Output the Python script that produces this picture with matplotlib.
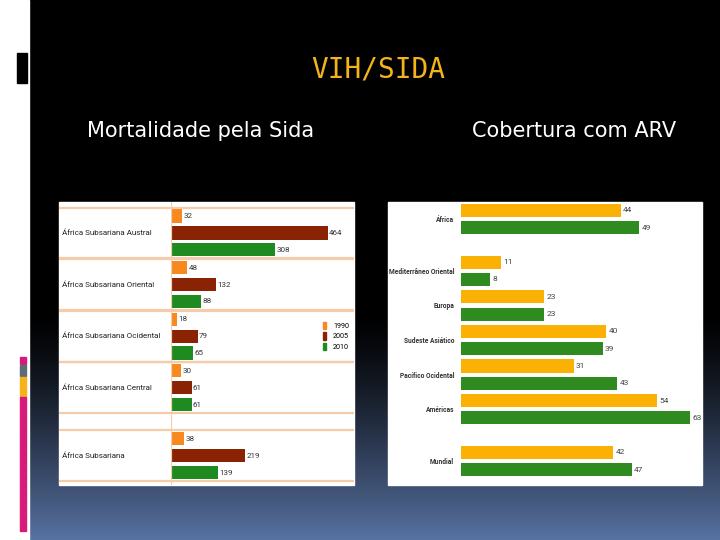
import numpy as np
import matplotlib.pyplot as plt
from matplotlib.patches import Rectangle, Patch

# Mortalidade pela Sida (left chart)
mort_regions = ["África Subsariana Austral", "África Subsariana Oriental",
                "África Subsariana Ocidental", "África Subsariana Central",
                "África Subsariana"]
mort_years = ["1990", "2005", "2010"]
mort_1990 = [32, 48, 18, 30, 38]
mort_2005 = [464, 132, 79, 61, 219]
mort_2010 = [308, 88, 65, 61, 139]

# Cobertura com ARV (right chart)
arv_regions = ["África", "Mediterrâneo Oriental", "Europa", "Sudeste Asiático",
               "Pacífico Ocidental", "Américas", "Mundial"]
arv_a = [44, 11, 23, 40, 31, 54, 42]
arv_b = [49, 8, 23, 39, 43, 63, 47]

W, H = 720, 540
fig = plt.figure(figsize=(7.2, 5.4), dpi=100)


def fx(px):
    return px / W


def fy(py):
    return 1 - py / H


# background: black fading to blue-grey at the bottom
bg = fig.add_axes([0, 0, 1, 1])
t = np.linspace(0, 1, 540)
ramp = np.clip((t - 0.58) / 0.42, 0, 1) ** 1.3
bot = np.array([88, 114, 162]) / 255
grad = bot[None, :] * ramp[:, None]
bg.imshow(grad[:, None, :], aspect="auto", extent=[0, 1, 0, 1])
bg.set_xlim(0, 1)
bg.set_ylim(0, 1)
bg.axis("off")

# left white strip and decorations
bg.add_patch(Rectangle((0, 0), fx(29), 1, color="white"))
bg.add_patch(Rectangle((fx(17), fy(83)), fx(10), fy(53) - fy(83), color="black"))
for y0, y1, c in [(357, 364, "#d81b7b"), (365, 376, "#5f6b75"),
                  (377, 396, "#f5b21a"), (397, 531, "#d81b7b")]:
    bg.add_patch(Rectangle((fx(20), fy(y1)), fx(6), fy(y0) - fy(y1), color=c))

# white panels behind the two charts
bg.add_patch(Rectangle((fx(59), fy(485)), fx(354 - 59), fy(202) - fy(485), color="white"))
bg.add_patch(Rectangle((fx(388), fy(485)), fx(702 - 388), fy(202) - fy(485), color="white"))

# titles
fig.text(fx(378), fy(69), "VIH/SIDA", color="#f5b31a", fontsize=20,
         family="DejaVu Sans Mono", ha="center", va="center")
fig.text(fx(201), fy(131), "Mortalidade pela Sida", color="white", fontsize=15,
         ha="center", va="center")
fig.text(fx(574), fy(131), "Cobertura com ARV", color="white", fontsize=15,
         ha="center", va="center")

# ---- left chart ----
ax1 = fig.add_axes([fx(171), fy(485), fx(354 - 171), fy(202) - fy(485)])
ax1.set_facecolor("white")
centers = np.array([0, 3.05, 6.1, 9.15, 13.17])
colors1 = ["#f7891f", "#8a2204", "#1f8a1f"]
for k, vals in enumerate([mort_1990, mort_2005, mort_2010]):
    ys = centers + (k - 1)
    ax1.barh(ys, vals, height=0.78, color=colors1[k], label=mort_years[k])
    for y, v in zip(ys, vals):
        ax1.text(v + 4, y, str(v), fontsize=5.8, color="#333333", va="center",
                 family="Roboto")
ax1.set_xlim(0, 541)
ax1.set_ylim(14.9, -1.83)
ax1.axis("off")
ytr = ax1.get_yaxis_transform()
seps = sorted(set(np.round(np.concatenate([centers - 1.5, centers + 1.5]), 2)))
ax1.hlines(seps, -0.61, 1.0, transform=ytr, color="#f5cba9", lw=1.6, clip_on=False)
ax1.axvline(0, color="#f5cba9", lw=1.6)
for c, name in zip(centers, mort_regions):
    ax1.text(-0.595, c, name, transform=ytr, fontsize=5.8, color="#222222",
             va="center", ha="left", family="Roboto")
handles = [Patch(color=colors1[k], label=mort_years[k]) for k in range(3)]
ax1.legend(handles=handles, loc="center left", bbox_to_anchor=(0.81, 0.525),
           frameon=False, prop={"family": "Roboto", "size": 5.2},
           handlelength=0.5, handleheight=1.2,
           handletextpad=0.9, labelspacing=0.3, borderpad=0)

# ---- right chart ----
ax2 = fig.add_axes([fx(461), fy(485), fx(702 - 461), fy(202) - fy(485)])
ax2.set_facecolor("white")
pc = np.array([0, 3, 5, 7, 9, 11, 14])
colors2 = ["#fbb104", "#2f8a1f"]
for k, vals in enumerate([arv_a, arv_b]):
    ys = pc + (k - 0.5)
    ax2.barh(ys, vals, height=0.76, color=colors2[k])
    for y, v in zip(ys, vals):
        ax2.text(v + 0.7, y, str(v), fontsize=6, color="#444444", va="center",
                 family="Roboto")
ax2.set_xlim(0, 66.4)
ax2.set_ylim(15.38, -0.98)
for s in ax2.spines.values():
    s.set_visible(False)
ax2.set_xticks([])
ax2.set_yticks(pc)
ax2.set_yticklabels(arv_regions, fontsize=4.8, color="#333333", fontweight="bold",
                    family="Roboto")
ax2.tick_params(axis="y", length=0, pad=5)

fig.savefig("out.png", dpi=100)
